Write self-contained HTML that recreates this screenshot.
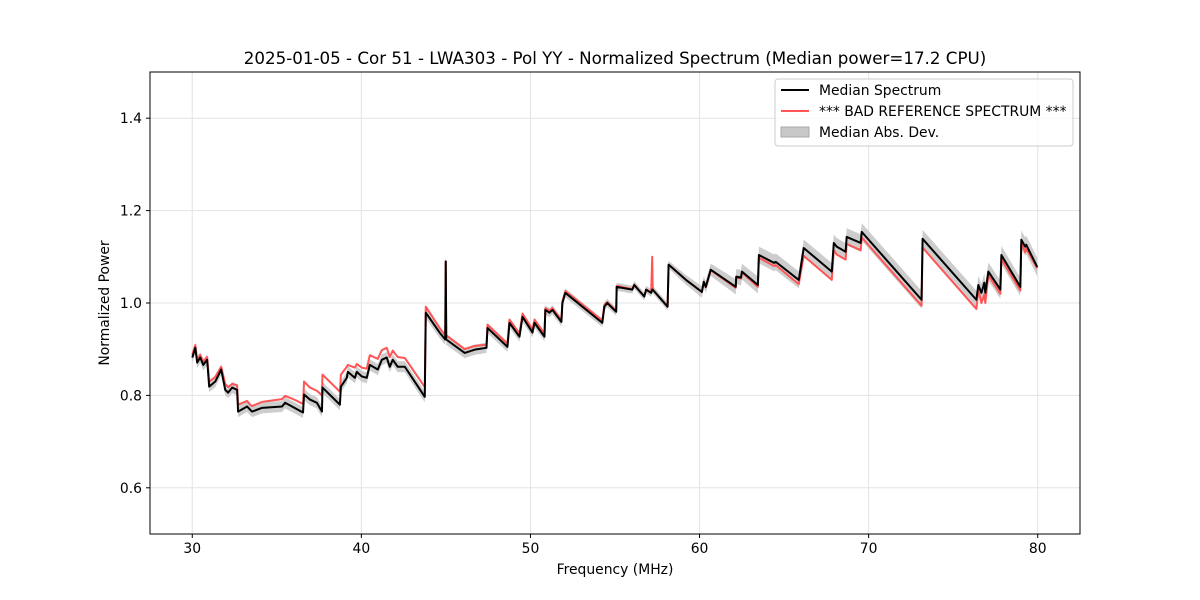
<!DOCTYPE html>
<html><head><meta charset="utf-8"><style>
body{margin:0;background:#fff;}
svg{display:block;font-family:"DejaVu Sans","Liberation Sans",sans-serif;}
</style></head><body>
<svg id="chart" width="1200" height="600" viewBox="0 0 1200 600">
<rect width="1200" height="600" fill="#fff"/>
<g id="grid"></g>
<g id="series"></g>
<rect x="150" y="72" width="930" height="462" fill="none" stroke="#000" stroke-width="1"/>
<g id="ticks"></g>
<text x="615" y="64" text-anchor="middle" font-size="16.7">2025-01-05 - Cor 51 - LWA303 - Pol YY - Normalized Spectrum (Median power=17.2 CPU)</text>
<text x="615" y="574" text-anchor="middle" font-size="13.9">Frequency (MHz)</text>
<text x="109" y="303" text-anchor="middle" font-size="13.9" transform="rotate(-90 109 303)">Normalized Power</text>
<g>
<rect x="775" y="79" width="298" height="67" rx="3" fill="#fff" fill-opacity="0.8" stroke="#ccc"/>
<g><line x1="781" y1="90" x2="809" y2="90" stroke="#000" stroke-width="2"/><text x="819" y="95" font-size="13.9">Median Spectrum</text></g>
<g><line x1="781" y1="111" x2="809" y2="111" stroke="#f55" stroke-width="2"/><text x="819" y="116" font-size="13.9">*** BAD REFERENCE SPECTRUM ***</text></g>
<g><rect x="781" y="127" width="28" height="10" fill="#c8c8c8" stroke="#aaa"/><text x="819" y="137" font-size="13.9">Median Abs. Dev.</text></g>
</g>
</svg>
<script>
const freq=[30.00,30.18,30.29,30.47,30.65,30.88,31.00,31.36,31.71,31.95,32.12,32.36,32.65,32.71,33.24,33.42,33.54,34.13,35.31,35.49,35.90,36.25,36.55,36.61,36.96,37.37,37.67,37.70,38.73,38.79,39.14,39.20,39.62,39.73,40.03,40.32,40.50,40.97,41.21,41.50,41.68,41.86,42.15,42.57,43.75,43.81,44.63,44.96,44.99,45.02,46.11,46.70,47.40,47.46,48.64,48.76,49.35,49.53,50.12,50.24,50.83,50.88,51.12,51.30,51.83,51.89,52.06,54.25,54.37,54.54,55.07,55.10,56.02,56.14,56.73,56.84,57.14,57.20,57.23,58.11,58.17,59.20,60.14,60.25,60.37,60.66,62.14,62.17,62.45,62.51,63.45,63.51,64.40,64.51,65.69,65.87,66.16,67.82,67.94,68.11,68.64,68.70,69.53,69.59,73.13,73.19,76.37,76.49,76.67,76.84,76.90,77.08,77.79,77.85,78.97,79.03,79.26,79.32,79.97];
const median=[0.882,0.903,0.871,0.882,0.866,0.877,0.819,0.830,0.856,0.812,0.806,0.817,0.812,0.765,0.776,0.769,0.765,0.773,0.776,0.784,0.776,0.769,0.763,0.802,0.791,0.784,0.765,0.817,0.780,0.819,0.838,0.851,0.838,0.851,0.841,0.838,0.866,0.856,0.877,0.882,0.862,0.877,0.862,0.862,0.797,0.979,0.936,0.921,1.090,0.921,0.892,0.899,0.903,0.946,0.905,0.957,0.927,0.970,0.936,0.957,0.927,0.985,0.979,0.985,0.959,1.000,1.022,0.957,0.992,1.000,0.981,1.035,1.029,1.039,1.014,1.029,1.022,1.029,1.029,0.992,1.083,1.050,1.024,1.046,1.035,1.072,1.035,1.057,1.055,1.068,1.039,1.104,1.087,1.089,1.055,1.050,1.119,1.068,1.130,1.122,1.111,1.143,1.130,1.154,1.007,1.139,1.007,1.039,1.022,1.044,1.022,1.068,1.029,1.104,1.035,1.137,1.122,1.126,1.078];
const reference=[0.888,0.909,0.877,0.888,0.873,0.883,0.830,0.840,0.862,0.825,0.818,0.825,0.822,0.780,0.788,0.780,0.777,0.786,0.792,0.799,0.793,0.787,0.781,0.830,0.817,0.810,0.800,0.845,0.808,0.845,0.862,0.866,0.860,0.868,0.860,0.858,0.887,0.879,0.898,0.903,0.883,0.897,0.883,0.881,0.818,0.992,0.946,0.930,1.090,0.930,0.900,0.907,0.910,0.953,0.912,0.964,0.934,0.977,0.943,0.964,0.934,0.989,0.983,0.989,0.963,1.004,1.026,0.962,0.996,1.002,0.983,1.037,1.030,1.040,1.014,1.029,1.022,1.100,1.029,0.992,1.083,1.050,1.024,1.045,1.034,1.071,1.033,1.055,1.053,1.066,1.035,1.098,1.080,1.082,1.046,1.041,1.102,1.050,1.114,1.105,1.094,1.128,1.114,1.142,0.994,1.120,0.987,1.028,1.000,1.018,1.000,1.060,1.020,1.095,1.027,1.130,1.110,1.118,1.075];
const madFreq=[30,44,58,63,80];
const madVal=[0.012,0.012,0.008,0.018,0.020];
const xTicks=[30,40,50,60,70,80];
const yTicks=[0.6,0.8,1.0,1.2,1.4];

const X0=150,X1=1080,Y0=534,Y1=72,FMIN=27.5,FMAX=82.5,VMIN=0.5,VMAX=1.5;
const sx=f=>X0+(f-FMIN)/(FMAX-FMIN)*(X1-X0);
const sy=v=>Y0-(v-VMIN)/(VMAX-VMIN)*(Y0-Y1);
const NS='http://www.w3.org/2000/svg';
function mk(t,a){const e=document.createElementNS(NS,t);for(const k in a)e.setAttribute(k,a[k]);return e;}
function madAt(f){for(let i=0;i<madFreq.length-1;i++){if(f<=madFreq[i+1]){const t=(f-madFreq[i])/(madFreq[i+1]-madFreq[i]);return madVal[i]+t*(madVal[i+1]-madVal[i]);}}return madVal[madVal.length-1];}

const grid=document.getElementById('grid'),ticks=document.getElementById('ticks'),ser=document.getElementById('series');
xTicks.forEach(t=>{
 const gl=mk('line',{x1:sx(t),x2:sx(t),y1:Y1,y2:Y0,stroke:'#e3e3e3','stroke-width':1});
 
 
 grid.appendChild(gl);
 const tk=mk('line',{x1:sx(t),x2:sx(t),y1:Y0,y2:Y0+4,stroke:'#000'});
 
 
 ticks.appendChild(tk);
 const tl=mk('text',{x:sx(t),y:Y0+19,'text-anchor':'middle','font-size':'13.9'});
 
 
 tl.textContent=t;ticks.appendChild(tl);
});
yTicks.forEach(t=>{
 const gl=mk('line',{x1:X0,x2:X1,y1:sy(t),y2:sy(t),stroke:'#e3e3e3','stroke-width':1});
 
 
 grid.appendChild(gl);
 const tk=mk('line',{x1:X0-4,x2:X0,y1:sy(t),y2:sy(t),stroke:'#000'});
 
 
 ticks.appendChild(tk);
 const tl=mk('text',{x:X0-8,y:sy(t)+5,'text-anchor':'end','font-size':'13.9'});
 
 
 tl.textContent=t.toFixed(1);ticks.appendChild(tl);
});
let up=[],dn=[];
freq.forEach((f,i)=>{const m=madAt(f);up.push(sx(f)+','+sy(median[i]+m));dn.unshift(sx(f)+','+sy(median[i]-m));});
const band=mk('polygon',{points:up.concat(dn).join(' '),fill:'#c4c4c4','fill-opacity':0.85,stroke:'none'});


ser.appendChild(band);
const ref=mk('polyline',{points:freq.map((f,i)=>sx(f)+','+sy(reference[i])).join(' '),fill:'none',stroke:'#f55','stroke-width':2,'stroke-linejoin':'round'});


ser.appendChild(ref);
const med=mk('polyline',{points:freq.map((f,i)=>sx(f)+','+sy(median[i])).join(' '),fill:'none',stroke:'#000','stroke-width':2,'stroke-linejoin':'round'});


ser.appendChild(med);
</script>
</body></html>
